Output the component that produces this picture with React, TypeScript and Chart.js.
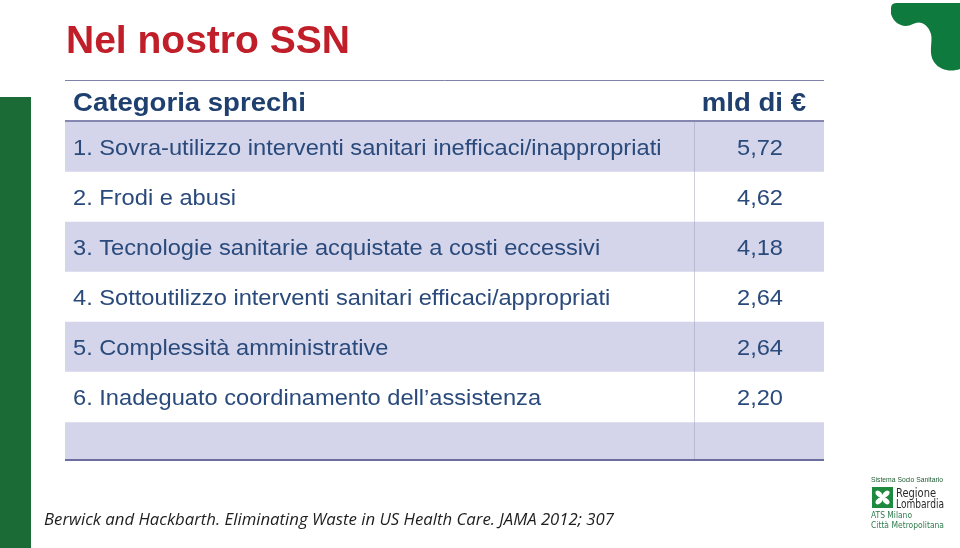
import React, { useEffect, useRef } from "react";
import { Chart, registerables } from "chart.js";

Chart.register(...registerables);

const TITLE = "Nel nostro SSN";
const HEADERS = ["Categoria sprechi", "mld di €"];
const CATEGORIES = [
  "1. Sovra-utilizzo interventi sanitari inefficaci/inappropriati",
  "2. Frodi e abusi",
  "3. Tecnologie sanitarie acquistate a costi eccessivi",
  "4. Sottoutilizzo interventi sanitari efficaci/appropriati",
  "5. Complessità amministrative",
  "6. Inadeguato coordinamento dell’assistenza",
];
const VALUES = [5.72, 4.62, 4.18, 2.64, 2.64, 2.2];
const CITATION = "Berwick and Hackbarth. Eliminating Waste in US Health Care. JAMA 2012; 307";
const LOGO_LINES = ["Sistema Socio Sanitario", "Regione", "Lombardia", "ATS Milano", "Città Metropolitana"];

// layout / style constants
const EXTRA_ROW = 0.76; // empty last row, as fraction of a row
const COL_SPLIT = 0.8287; // column divider position on x scale (0..1)
const LAVENDER = "#D4D5EA";
const TEXT_BLUE = "#2A4A7C";
const HEAD_BLUE = "#1F406F";
const GREEN = "#1B6B37";

function drawText(
  ctx: CanvasRenderingContext2D,
  text: string,
  x: number,
  y: number,
  font: string,
  color: string,
  align: "left" | "center" | "right",
  sx = 1,
  fitWidth?: number
) {
  ctx.save();
  ctx.font = font;
  ctx.fillStyle = color;
  ctx.textBaseline = "alphabetic";
  ctx.textAlign = "left";
  const raw = ctx.measureText(text).width;
  const s = fitWidth ? fitWidth / raw : sx;
  const w = raw * s;
  const left = align === "left" ? x : align === "center" ? x - w / 2 : x - w;
  ctx.translate(left, y);
  ctx.scale(s, 1);
  ctx.fillText(text, 0, 0);
  ctx.restore();
}

const tablePlugin = {
  id: "tableText",
  afterDatasetsDraw(chart: any) {
    const ctx: CanvasRenderingContext2D = chart.ctx;
    const xs = chart.scales.x;
    const ys = chart.scales.y;
    const area = chart.chartArea;
    const left = xs.getPixelForValue(0);
    const right = xs.getPixelForValue(1);
    const split = xs.getPixelForValue(COL_SPLIT);

    // column divider
    ctx.save();
    ctx.strokeStyle = "rgba(150,152,185,0.45)";
    ctx.lineWidth = 1;
    ctx.beginPath();
    ctx.moveTo(Math.round(split) + 0.5, area.top);
    ctx.lineTo(Math.round(split) + 0.5, area.bottom);
    ctx.stroke();

    // top line
    const headTop = area.top - 42;
    ctx.strokeStyle = "#7F82A8";
    ctx.lineWidth = 1;
    ctx.beginPath();
    ctx.moveTo(left, headTop + 0.5);
    ctx.lineTo(right, headTop + 0.5);
    ctx.stroke();
    // header line
    ctx.strokeStyle = "#8587B0";
    ctx.lineWidth = 2;
    ctx.beginPath();
    ctx.moveTo(left, area.top - 1);
    ctx.lineTo(right, area.top - 1);
    ctx.stroke();
    // bottom line
    ctx.strokeStyle = "#6B6D9E";
    ctx.lineWidth = 2;
    ctx.beginPath();
    ctx.moveTo(left, area.bottom);
    ctx.lineTo(right, area.bottom);
    ctx.stroke();
    ctx.restore();

    // header text
    const headFont = "bold 26px 'Liberation Sans', Arial, sans-serif";
    drawText(ctx, HEADERS[0], left + 8, area.top - 11, headFont, HEAD_BLUE, "left", 1.06);
    drawText(ctx, HEADERS[1], right - 18, area.top - 11, headFont, HEAD_BLUE, "right", 1.06);

    // rows
    const rowFont = "22px 'Liberation Sans', Arial, sans-serif";
    const valX = xs.getPixelForValue((COL_SPLIT + 1) / 2);
    CATEGORIES.forEach((c, i) => {
      const cy = ys.getPixelForValue(i + 0.5);
      drawText(ctx, c, left + 8, cy + 8, rowFont, TEXT_BLUE, "left", 1.075);
      const v = VALUES[i].toFixed(2).replace(".", ",");
      drawText(ctx, v, valX + 1, cy + 8, rowFont, TEXT_BLUE, "center", 1.075);
    });
  },
  afterDraw(chart: any) {
    const ctx: CanvasRenderingContext2D = chart.ctx;
    // left green bar
    ctx.save();
    ctx.fillStyle = GREEN;
    ctx.fillRect(0, 97, 31, 548 - 97);

    // top-right logo shape
    ctx.fillStyle = "#0F7A3E";
    ctx.beginPath();
    ctx.moveTo(891, 8);
    ctx.quadraticCurveTo(891, 3, 897, 3);
    ctx.lineTo(960, 3);
    ctx.lineTo(960, 69);
    ctx.bezierCurveTo(952, 72, 940, 71, 934, 62);
    ctx.bezierCurveTo(928, 53, 933, 42, 931, 34);
    ctx.bezierCurveTo(928, 24, 920, 20, 913, 24);
    ctx.bezierCurveTo(904, 29, 894, 24, 891, 14);
    ctx.closePath();
    ctx.fill();
    ctx.restore();

    // title
    drawText(ctx, TITLE, 66, 53, "bold 39px 'Liberation Sans', Arial, sans-serif", "#C01E28", "left", 1);

    // citation
    drawText(ctx, CITATION, 44, 525, "italic 16px 'Open Sans', 'Liberation Sans', sans-serif", "#1E1E1E", "left", 1, 570);

    // bottom-right logo
    drawText(ctx, LOGO_LINES[0], 871, 482, "8px 'Liberation Sans', Arial, sans-serif", "#1F5E34", "left", 1, 72);
    ctx.save();
    ctx.fillStyle = "#1F8A3F";
    ctx.fillRect(872, 487, 21, 21);
    ctx.fillStyle = "#ffffff";
    const cx = 882.5, cy = 497.5;
    for (let k = 0; k < 4; k++) {
      const a = Math.PI / 4 + (k * Math.PI) / 2;
      ctx.beginPath();
      ctx.ellipse(cx + Math.cos(a) * 5, cy + Math.sin(a) * 5, 4, 2.6, a, 0, Math.PI * 2);
      ctx.fill();
    }
    ctx.beginPath();
    ctx.arc(cx, cy, 2.5, 0, Math.PI * 2);
    ctx.fill();
    ctx.restore();
    drawText(ctx, LOGO_LINES[1], 896, 497, "12px 'DejaVu Sans', sans-serif", "#2B2B2B", "left", 1, 40);
    drawText(ctx, LOGO_LINES[2], 896, 508, "12px 'DejaVu Sans', sans-serif", "#2B2B2B", "left", 1, 48);
    drawText(ctx, LOGO_LINES[3], 871, 518, "9px 'DejaVu Sans', sans-serif", "#2E7A4C", "left", 1, 41);
    drawText(ctx, LOGO_LINES[4], 871, 528, "9px 'DejaVu Sans', sans-serif", "#2E7A4C", "left", 1, 73);
  },
};

export default function App() {
  const ref = useRef<HTMLCanvasElement | null>(null);

  useEffect(() => {
    if (!ref.current) return;
    const rowData = CATEGORIES.map((_, i) => ({ y: i + 0.5, x: [0, 1] }));
    const rowColors = CATEGORIES.map((_, i) => (i % 2 === 0 ? LAVENDER : "#FFFFFF"));
    const chart = new Chart(ref.current, {
      type: "bar",
      data: {
        datasets: [
          {
            label: "righe",
            data: rowData as any,
            backgroundColor: rowColors,
            borderWidth: 0,
            barThickness: 50,
            stack: "tabella",
          } as any,
          {
            label: "riga vuota",
            data: [{ y: CATEGORIES.length + EXTRA_ROW / 2, x: [0, 1] }] as any,
            backgroundColor: CATEGORIES.length % 2 === 0 ? LAVENDER : "#FFFFFF",
            borderWidth: 0,
            barThickness: 38,
            stack: "tabella",
          } as any,
        ],
      },
      options: {
        indexAxis: "y",
        responsive: false,
        animation: false,
        events: [],
        layout: { padding: { left: 65, right: 136, top: 122, bottom: 88 } },
        plugins: { legend: { display: false }, tooltip: { enabled: false } },
        scales: {
          x: { type: "linear", min: 0, max: 1, display: false, offset: false },
          y: {
            type: "linear",
            min: 0,
            max: CATEGORIES.length + EXTRA_ROW,
            reverse: true,
            display: false,
            offset: false,
          },
        },
      },
      plugins: [tablePlugin],
    });
    return () => chart.destroy();
  }, []);

  return (
    <div style={{ position: "absolute", left: 0, top: 0, width: 960, height: 548, background: "#fff" }}>
      <canvas ref={ref} width={960} height={548} style={{ display: "block" }} />
    </div>
  );
}
